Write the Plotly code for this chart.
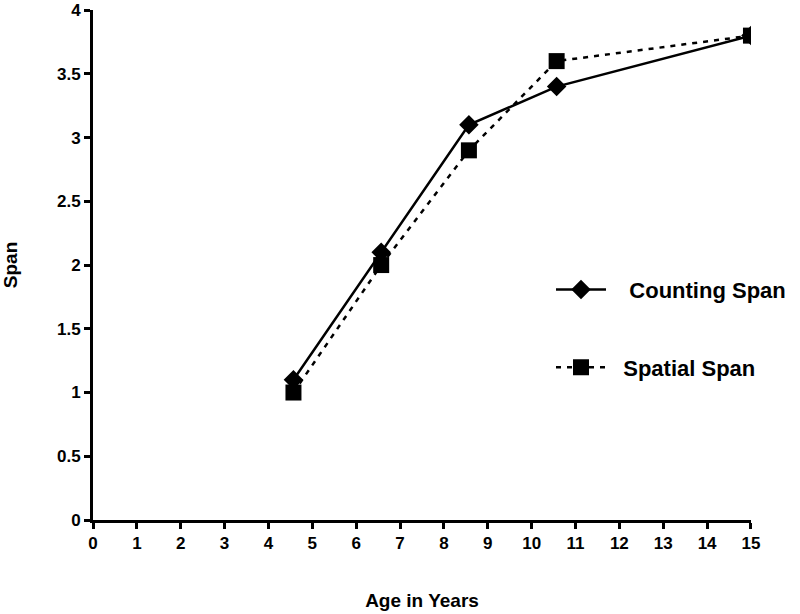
import plotly.graph_objects as go

age = [4.57, 6.57, 8.57, 10.57, 15]
counting_span = [1.1, 2.1, 3.1, 3.4, 3.8]
spatial_span = [1.0, 2.0, 2.9, 3.6, 3.8]
x_ticks = list(range(0, 16))
y_ticks = [0, 0.5, 1, 1.5, 2, 2.5, 3, 3.5, 4]

font = "Liberation Sans, Arial, sans-serif"

fig = go.Figure()
fig.add_trace(
    go.Scatter(
        x=age,
        y=counting_span,
        name="<b>   Counting Span</b>",
        legendgroup="counting",
        mode="lines+markers",
        line=dict(color="black", width=2.5),
        marker=dict(symbol="diamond", size=15, color="black"),
    )
)
fig.add_trace(
    go.Scatter(
        x=age,
        y=spatial_span,
        name="<b>  Spatial Span</b>",
        legendgroup="spatial",
        mode="lines+markers",
        line=dict(color="black", width=2.5, dash="5px,6px"),
        marker=dict(symbol="square", size=16, color="black"),
    )
)
fig.update_layout(
    width=800,
    height=614,
    template="plotly_white",
    plot_bgcolor="white",
    paper_bgcolor="white",
    margin=dict(l=93, r=48, t=10, b=94),
    font=dict(family=font, color="black"),
    legend=dict(
        x=0.695,
        y=0.375,
        xanchor="left",
        yanchor="middle",
        font=dict(size=22, color="black"),
        traceorder="grouped",
        tracegroupgap=46,
        itemwidth=50,
        bgcolor="rgba(0,0,0,0)",
    ),
    xaxis=dict(
        range=[0, 15.001],
        tickvals=x_ticks,
        ticktext=[f"<b>{t}</b>" for t in x_ticks],
        ticks="outside",
        ticklen=6,
        tickwidth=3,
        tickcolor="black",
        showline=True,
        linecolor="black",
        linewidth=3,
        showgrid=False,
        zeroline=False,
        automargin=False,
        ticklabeloverflow="allow",
        tickfont=dict(size=17),
        title=dict(text="<b>Age in Years</b>", font=dict(size=19), standoff=42),
    ),
    yaxis=dict(
        range=[0, 4.001],
        tickvals=y_ticks,
        ticktext=[f"<b>{t:g}</b>" for t in y_ticks],
        ticks="outside",
        ticklen=6,
        tickwidth=3,
        tickcolor="black",
        showline=True,
        linecolor="black",
        linewidth=3,
        showgrid=False,
        zeroline=False,
        automargin=False,
        ticklabeloverflow="allow",
        tickfont=dict(size=17),
        title=dict(text="<b>Span</b>", font=dict(size=19), standoff=40),
    ),
)
fig.write_html(
    "out.html",
    config={"displayModeBar": False},
    post_script="document.body.style.margin='0';",
)
